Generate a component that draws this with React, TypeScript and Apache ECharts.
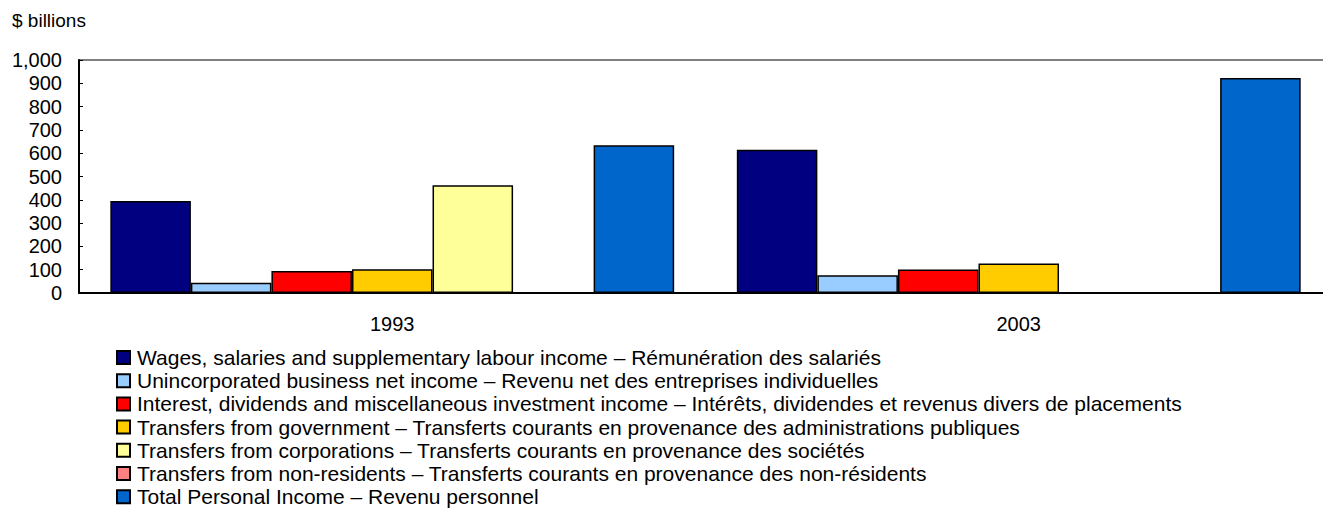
import React, { useEffect, useRef } from "react";
import * as echarts from "echarts";

const categories = ["1993", "2003"];
const seriesNames = [
  "Wages, salaries and supplementary labour income – Rémunération des salariés",
  "Unincorporated business net income – Revenu net des entreprises individuelles",
  "Interest, dividends and miscellaneous investment income – Intérêts, dividendes et revenus divers de placements",
  "Transfers from government – Transferts courants en provenance des administrations publiques",
  "Transfers from corporations – Transferts courants en provenance des sociétés",
  "Transfers from non-residents – Transferts courants en provenance des non-résidents",
  "Total Personal Income – Revenu personnel",
];
const wages = [395, 615];
const unincorporated = [44, 76];
const interest = [94, 101];
const transfersGov = [102, 127];
const transfersCorp = [462, 0];
const transfersNonRes = [0, 0];
const totalIncome = [634, 923];
const seriesValues = [wages, unincorporated, interest, transfersGov, transfersCorp, transfersNonRes, totalIncome];
const colors = ["#000080", "#99CCFF", "#FF0000", "#FFCC00", "#FFFF99", "#FF8080", "#0066CC"];
const yTicks = [0, 1000, 100];

const FONT = "'Liberation Sans', Arial, Helvetica, sans-serif";

export default function App() {
  const ref = useRef<HTMLDivElement>(null);
  useEffect(() => {
    if (!ref.current) return;
    const chart = echarts.init(ref.current, undefined, { renderer: "svg" });
    chart.setOption({
      animation: false,
      textStyle: { fontFamily: FONT, color: "#000" },
      title: {
        text: "$ billions",
        left: 12,
        top: 11,
        padding: 0,
        textStyle: { fontSize: 19, fontWeight: "normal", color: "#000", fontFamily: FONT },
      },
      grid: {
        left: 79,
        top: 60,
        height: 233,
        width: 1253,
        show: true,
        borderColor: "#000",
        borderWidth: 1,
        containLabel: false,
      },
      legend: {
        orient: "vertical",
        left: 116,
        top: 347,
        height: 171,
        padding: 0,
        itemWidth: 13,
        itemHeight: 13,
        itemGap: 2.2,
        icon: "rect",
        textStyle: { fontSize: 21, color: "#000", fontFamily: FONT, padding: [0, 0, 0, 2] },
        data: seriesNames,
      },
      xAxis: {
        type: "category",
        data: categories,
        axisLine: { lineStyle: { color: "#000", width: 2 } },
        axisTick: { show: false },
        axisLabel: { fontSize: 20, color: "#000", margin: 21, fontFamily: FONT },
        splitLine: { show: false },
      },
      yAxis: {
        type: "value",
        min: yTicks[0],
        max: yTicks[1],
        interval: yTicks[2],
        axisLine: { show: true, lineStyle: { color: "#000", width: 2 } },
        axisTick: { show: true, inside: true, length: 4, lineStyle: { color: "#000", width: 1 } },
        axisLabel: {
          fontSize: 20,
          color: "#000",
          margin: 17,
          fontFamily: FONT,
          formatter: (v: number) => v.toLocaleString("en-US"),
        },
        splitLine: { show: false },
      },
      series: seriesNames.map((name, i) => ({
        name,
        type: "bar",
        data: seriesValues[i],
        barGap: "0%",
        barCategoryGap: "10%",
        itemStyle: { color: colors[i], borderColor: "#000", borderWidth: 1.5 },
      })),
    });
    return () => chart.dispose();
  }, []);
  return (
    <div style={{ position: "absolute", left: 0, top: 0, width: 1323, height: 518, overflow: "hidden" }}>
      <div ref={ref} style={{ position: "absolute", left: 0, top: 0, width: 1350, height: 518 }} />
    </div>
  );
}
